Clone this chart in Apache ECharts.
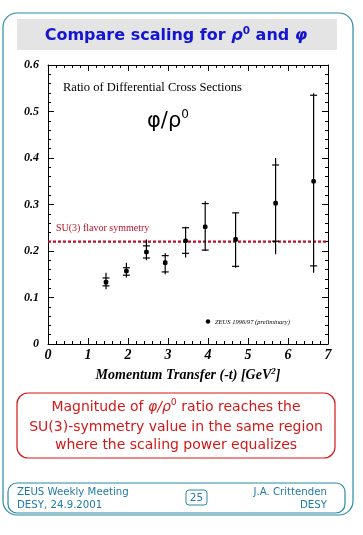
<!DOCTYPE html>
<html>
<head>
<meta charset="utf-8">
<script src="https://cdn.jsdelivr.net/npm/echarts@6/dist/echarts.min.js"></script>
<style>
html,body{margin:0;padding:0;background:#fff;}
#c{width:363px;height:535px;}
</style>
</head>
<body>
<div id="c"></div>
<script>
// Data
var tValues   = [1.45, 1.96, 2.46, 2.93, 3.44, 3.93, 4.69, 5.69, 6.64];
var ratio     = [0.133, 0.157, 0.198, 0.175, 0.222, 0.252, 0.225, 0.303, 0.350];
var totLow    = [0.118, 0.143, 0.180, 0.150, 0.186, 0.200, 0.164, 0.193, 0.153];
var totHigh   = [0.153, 0.175, 0.225, 0.195, 0.252, 0.307, 0.282, 0.400, 0.539];
var statLow   = [0.125, 0.148, 0.185, 0.155, 0.195, 0.202, 0.167, 0.221, 0.168];
var statHigh  = [0.142, 0.164, 0.211, 0.190, 0.250, 0.302, 0.282, 0.385, 0.535];
var su3Value  = 0.22;
var xTicks    = [0, 1, 2, 3, 4, 5, 6, 7];
var yTicks    = [0, 0.1, 0.2, 0.3, 0.4, 0.5, 0.6];

var chart = echarts.init(document.getElementById('c'), null, {renderer: 'canvas'});

var errData = tValues.map(function (x, i) {
  return [x, ratio[i], totLow[i], totHigh[i], statLow[i], statHigh[i]];
});

var teal = '#2a8aa6';
var footBlue = '#1f7aa8';
var serif = '"Liberation Serif", "DejaVu Serif", serif';
var sans = '"DejaVu Sans", Verdana, sans-serif';

var option = {
  animation: false,
  backgroundColor: '#fff',
  grid: {left: 48, right: 35, top: 65, bottom: 191, containLabel: false},
  xAxis: [{
    type: 'value', min: 0, max: 7, interval: 1,
    axisLine: {show: true, onZero: false, lineStyle: {color: '#000', width: 1}},
    axisTick: {show: true, inside: true, length: 6, lineStyle: {color: '#000'}},
    minorTick: {show: true, splitNumber: 5, length: 3, lineStyle: {color: '#000'}},
    splitLine: {show: false},
    axisLabel: {
      color: '#000', fontFamily: serif, fontStyle: 'italic', fontWeight: 'bold', fontSize: 14, margin: 4,
      formatter: function (v) { return xTicks.indexOf(v) >= 0 ? String(v) : ''; }
    },
    name: '{a|Momentum Transfer (-t) [GeV}{s|2}{a|]}',
    nameLocation: 'middle', nameGap: 22,
    nameTextStyle: {
      rich: {
        a: {fontFamily: serif, fontStyle: 'italic', fontWeight: 'bold', fontSize: 14, color: '#000'},
        s: {fontFamily: serif, fontStyle: 'italic', fontWeight: 'bold', fontSize: 9, color: '#000', verticalAlign: 'top', padding: [0, 0, 8, 0]}
      }
    }
  }, {
    type: 'value', min: 0, max: 7, interval: 1, position: 'top',
    axisLine: {show: true, onZero: false, lineStyle: {color: '#000'}},
    axisTick: {show: true, inside: true, length: 6, lineStyle: {color: '#000'}},
    minorTick: {show: true, splitNumber: 5, length: 3, lineStyle: {color: '#000'}},
    splitLine: {show: false}, axisLabel: {show: false}
  }],
  yAxis: [{
    type: 'value', min: 0, max: 0.6, interval: 0.1,
    axisLine: {show: true, onZero: false, lineStyle: {color: '#000'}},
    axisTick: {show: true, inside: true, length: 6, lineStyle: {color: '#000'}},
    minorTick: {show: true, splitNumber: 5, length: 3, lineStyle: {color: '#000'}},
    splitLine: {show: false},
    axisLabel: {
      color: '#000', fontFamily: serif, fontStyle: 'italic', fontWeight: 'bold', fontSize: 12, margin: 9,
      formatter: function (v) {
        var r = Math.round(v * 10) / 10;
        return r === 0 ? '0' : r.toFixed(1);
      }
    }
  }, {
    type: 'value', min: 0, max: 0.6, interval: 0.1, position: 'right',
    axisLine: {show: true, onZero: false, lineStyle: {color: '#000'}},
    axisTick: {show: true, inside: true, length: 6, lineStyle: {color: '#000'}},
    minorTick: {show: true, splitNumber: 5, length: 3, lineStyle: {color: '#000'}},
    splitLine: {show: false}, axisLabel: {show: false}
  }],
  series: [{
    type: 'line',
    data: [[0, su3Value], [7, su3Value]],
    symbol: 'none',
    lineStyle: {color: '#b8102a', width: 2.2, type: [3, 2]},
    z: 2
  }, {
    type: 'custom',
    data: errData,
    z: 5,
    renderItem: function (params, api) {
      var x = api.value(0);
      var c = api.coord([x, api.value(1)]);
      var lo = api.coord([x, api.value(2)]);
      var hi = api.coord([x, api.value(3)]);
      var sl = api.coord([x, api.value(4)]);
      var sh = api.coord([x, api.value(5)]);
      var st = {stroke: '#000', lineWidth: 1.2};
      return {
        type: 'group',
        children: [
          {type: 'line', shape: {x1: c[0], y1: lo[1], x2: c[0], y2: hi[1]}, style: st},
          {type: 'line', shape: {x1: c[0] - 3.5, y1: sl[1], x2: c[0] + 3.5, y2: sl[1]}, style: st},
          {type: 'line', shape: {x1: c[0] - 3.5, y1: sh[1], x2: c[0] + 3.5, y2: sh[1]}, style: st},
          {type: 'rect', shape: {x: c[0] - 2.3, y: c[1] - 2.3, width: 4.6, height: 4.6, r: 1.5}, style: {fill: '#000'}}
        ]
      };
    }
  }],
  graphic: [
    // outer frame
    {type: 'rect', shape: {x: 3, y: 13, width: 350, height: 502, r: 14}, style: {fill: 'none', stroke: teal, lineWidth: 1.2}, z: 0},
    // title box
    {type: 'rect', shape: {x: 17, y: 19, width: 320, height: 31}, style: {fill: '#e4e4e4'}, z: 0},
    {type: 'text', x: 176, y: 36, style: {
      text: '{a|Compare scaling for }{g|ρ}{s|0}{a| and }{g|φ}',
      align: 'center', verticalAlign: 'middle',
      rich: {
        a: {fontFamily: sans, fontWeight: 'bold', fontSize: 16, fill: '#1414d4'},
        g: {fontFamily: sans, fontStyle: 'italic', fontWeight: 'bold', fontSize: 16, fill: '#1414d4'},
        s: {fontFamily: sans, fontWeight: 'bold', fontSize: 10.5, fill: '#1414d4', verticalAlign: 'top', padding: [0, 0, 10, 0]}
      }
    }, z: 10},
    // chart annotations
    {type: 'text', x: 63, y: 88, style: {text: 'Ratio of Differential Cross Sections', fontFamily: serif, fontSize: 12.5, fill: '#000', verticalAlign: 'middle'}, z: 10},
    {type: 'text', x: 147, y: 122, style: {
      text: '{a|φ/ρ}{s|0}', verticalAlign: 'middle',
      rich: {
        a: {fontFamily: sans, fontSize: 21, fill: '#000'},
        s: {fontFamily: sans, fontSize: 12, fill: '#000', verticalAlign: 'top', padding: [0, 0, 14, 0]}
      }
    }, z: 10},
    {type: 'text', x: 56, y: 228, style: {text: 'SU(3) flavor symmetry', fontFamily: serif, fontSize: 10, fill: '#c0102a', verticalAlign: 'middle'}, z: 10},
    {type: 'circle', shape: {cx: 208, cy: 321.5, r: 2.2}, style: {fill: '#000'}, z: 10},
    {type: 'text', x: 215, y: 322, style: {text: 'ZEUS 1996/97 (preliminary)', fontFamily: serif, fontStyle: 'italic', fontSize: 6.5, fill: '#000', verticalAlign: 'middle'}, z: 10},
    // red conclusion box
    {type: 'rect', shape: {x: 17, y: 393, width: 318, height: 65, r: 11}, style: {fill: 'none', stroke: '#d41818', lineWidth: 1.2}, z: 0},
    {type: 'text', x: 176, y: 407, style: {
      text: '{a|Magnitude of }{g|φ/ρ}{s|0}{a| ratio reaches the}',
      align: 'center', verticalAlign: 'middle',
      rich: {
        a: {fontFamily: sans, fontSize: 14, fill: '#d41818'},
        g: {fontFamily: sans, fontStyle: 'italic', fontSize: 14, fill: '#d41818'},
        s: {fontFamily: sans, fontSize: 9.5, fill: '#d41818', verticalAlign: 'top', padding: [0, 0, 9, 0]}
      }
    }, z: 10},
    {type: 'text', x: 176, y: 427, style: {text: 'SU(3)-symmetry value in the same region', align: 'center', verticalAlign: 'middle', fontFamily: sans, fontSize: 14, fill: '#d41818'}, z: 10},
    {type: 'text', x: 176, y: 445, style: {text: 'where the scaling power equalizes', align: 'center', verticalAlign: 'middle', fontFamily: sans, fontSize: 14, fill: '#d41818'}, z: 10},
    // footer
    {type: 'rect', shape: {x: 8, y: 483, width: 337, height: 30, r: 9}, style: {fill: '#fff', stroke: teal, lineWidth: 1.2}, z: 1},
    {type: 'text', x: 17, y: 492, style: {text: 'ZEUS Weekly Meeting', fontFamily: sans, fontSize: 10.2, fill: footBlue, verticalAlign: 'middle'}, z: 10},
    {type: 'text', x: 17, y: 505, style: {text: 'DESY, 24.9.2001', fontFamily: sans, fontSize: 10.2, fill: footBlue, verticalAlign: 'middle'}, z: 10},
    {type: 'rect', shape: {x: 186, y: 490, width: 21, height: 15, r: 3}, style: {fill: 'none', stroke: teal, lineWidth: 1}, z: 10},
    {type: 'text', x: 196.5, y: 498, style: {text: '25', fontFamily: sans, fontSize: 10.5, fill: footBlue, align: 'center', verticalAlign: 'middle'}, z: 10},
    {type: 'text', x: 327, y: 492, style: {text: 'J.A. Crittenden', fontFamily: sans, fontSize: 10.2, fill: footBlue, align: 'right', verticalAlign: 'middle'}, z: 10},
    {type: 'text', x: 327, y: 505, style: {text: 'DESY', fontFamily: sans, fontSize: 10.2, fill: footBlue, align: 'right', verticalAlign: 'middle'}, z: 10}
  ]
};
chart.setOption(option);
</script>
</body>
</html>
